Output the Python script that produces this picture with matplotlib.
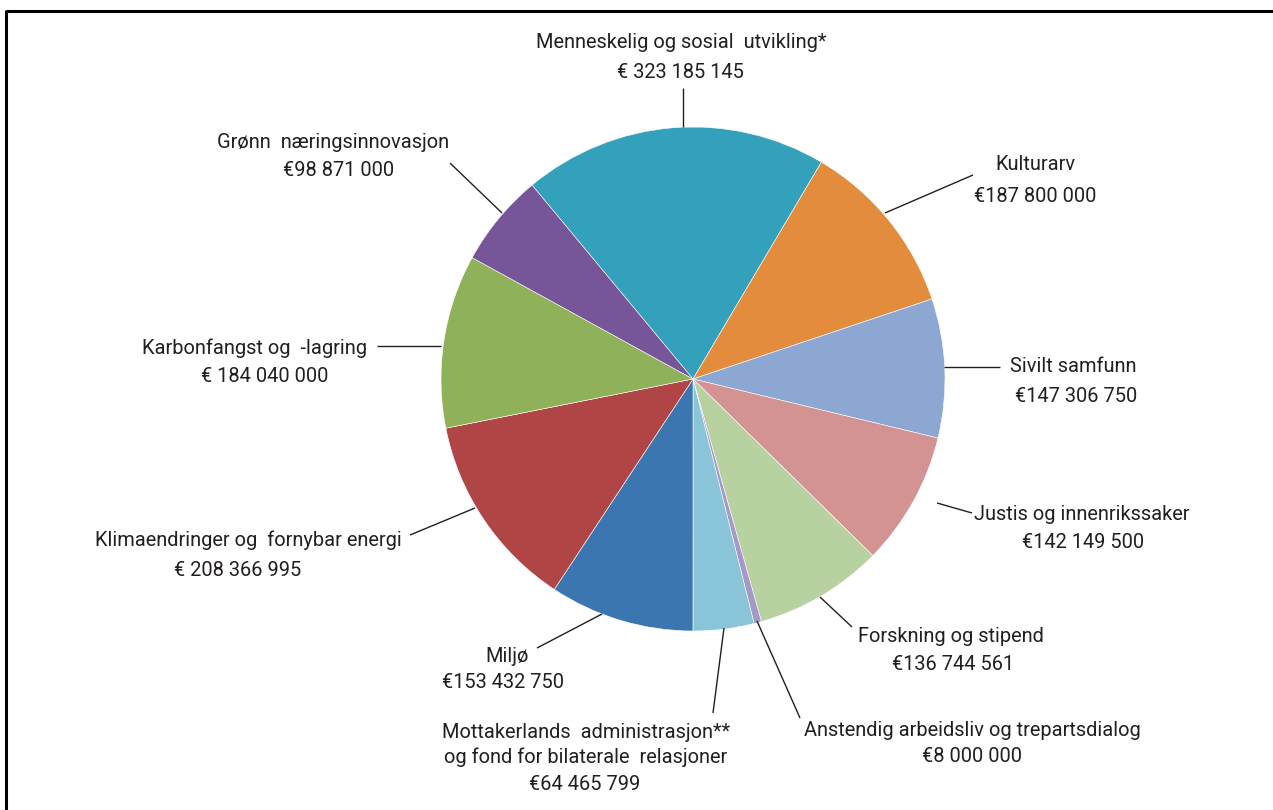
import matplotlib
matplotlib.use("Agg")
import matplotlib.pyplot as plt

categories = ["Menneskelig og sosial  utvikling*", "Kulturarv", "Sivilt samfunn",
              "Justis og innenrikssaker", "Forskning og stipend",
              "Anstendig arbeidsliv og trepartsdialog",
              "Mottakerlands  administrasjon**\nog fond for bilaterale  relasjoner",
              "Miljø", "Klimaendringer og  fornybar energi",
              "Karbonfangst og  -lagring", "Grønn  næringsinnovasjon"]
values = [323185145, 187800000, 147306750, 142149500, 136744561, 8000000,
          64465799, 153432750, 208366995, 184040000, 98871000]
value_labels = ["€ 323 185 145", "€187 800 000", "€147 306 750", "€142 149 500",
                "€136 744 561", "€8 000 000", "€64 465 799", "€153 432 750",
                "€ 208 366 995", "€ 184 040 000", "€98 871 000"]
colors = ["#33A1BC", "#E48C3D", "#8CA8D2", "#D39392", "#B7D1A0", "#A599C8",
          "#8AC4D8", "#3B76B0", "#B04545", "#8FB15A", "#765599"]

W, H = 1273, 810
fig = plt.figure(figsize=(W / 100, H / 100), dpi=100)
ax = fig.add_axes([0, 0, 1, 1])

cx, cy, r = 693, H - 379, 252
ax.pie(values, colors=colors, startangle=129.7, counterclock=False,
       center=(cx, cy), radius=r, frame=True,
       wedgeprops=dict(linewidth=0.4, edgecolor="white"))
ax.set_xlim(0, W)
ax.set_ylim(0, H)
ax.set_aspect("equal")
ax.axis("off")

font = dict(family=["Roboto", "DejaVu Sans"], fontsize=14.4, color="#231F20")

# label positions (name centre x, name y, value centre x, value y) in pixel coords
label_pos = [
    (681, 43, 680, 72),
    (1035, 165, 1035, 196),
    (1073, 367, 1076, 396),
    (1082, 515, 1083, 542),
    (951, 636, 953, 664),
    (972, 730, 972, 757),
    (586, 745, 585, 785),
    (507, 657, 503, 683),
    (248, 540, 238, 570),
    (255, 348, 265, 377),
    (333, 143, 339, 170),
]
leaders = [
    ((683, 127), (683, 88)),
    ((885, 213), (973, 175)),
    ((944, 367), (1000, 367)),
    ((937, 503), (972, 513)),
    ((820, 597), (852, 627)),
    ((757, 621), (800, 718)),
    ((724, 628), (713, 713)),
    ((602, 614), (537, 648)),
    ((475, 508), (410, 535)),
    ((441, 346), (377, 346)),
    ((502, 213), (450, 163)),
]

for name, val, (nx, ny, vx, vy), (p1, p2) in zip(categories, value_labels, label_pos, leaders):
    ax.text(nx, H - ny, name, ha="center", va="center", linespacing=1.3, **font)
    ax.text(vx, H - vy, val, ha="center", va="center", **font)
    ax.plot([p1[0], p2[0]], [H - p1[1], H - p2[1]], color="#231F20", lw=1.0,
            solid_capstyle="butt")

# partial frame
ax.plot([6, W], [H - 11, H - 11], color="black", lw=2.2, solid_capstyle="butt")
ax.plot([6, 6], [H - 10, 0], color="black", lw=2.2, solid_capstyle="butt")

fig.savefig("out.png", dpi=100)
